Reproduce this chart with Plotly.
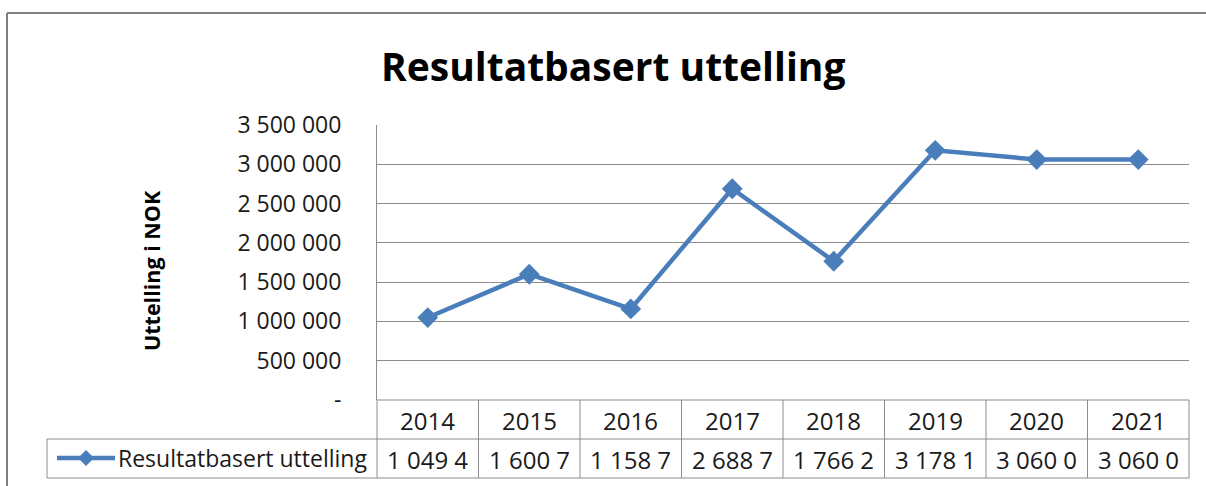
import plotly.graph_objects as go

years = ["2014", "2015", "2016", "2017", "2018", "2019", "2020", "2021"]
values = [1049400, 1600700, 1158700, 2688700, 1766200, 3178100, 3060000, 3060000]
series_name = "Resultatbasert uttelling"
title_text = "Resultatbasert uttelling"
y_title = "Uttelling i NOK"
y_tickvals = [0, 500000, 1000000, 1500000, 2000000, 2500000, 3000000, 3500000]


def fmt(v):
    if v == 0:
        return "-"
    return f"{v:,}".replace(",", " ")


y_ticktext = [fmt(v) for v in y_tickvals]
# Excel data table cells are too narrow, values appear clipped
table_text = [fmt(v)[:7] for v in values]

W, H = 1206, 486
L, R, T, B = 377, 17, 125, 86
pw, ph = W - L - R, H - T - B

def px_x(px):
    return (px - L) / pw

def px_y(py):
    return (H - B - py) / ph

FONT = "Open Sans"
LINE_C = "#4A7EBB"
GRID_C = "#8c8c8c"
TXT_C = "#1a1a1a"

n = len(years)
fig = go.Figure()
fig.add_trace(go.Scatter(
    x=list(range(n)), y=values, mode="lines+markers", name=series_name,
    line=dict(color=LINE_C, width=4.5),
    marker=dict(symbol="diamond", size=16, color=LINE_C),
    showlegend=False,
))

shapes = []
row1 = px_y(439)
row2 = px_y(478)
shapes.append(dict(type="line", xref="paper", yref="paper", x0=0, x1=1, y0=0, y1=0,
                   line=dict(color=GRID_C, width=1)))
shapes.append(dict(type="line", xref="paper", yref="paper", x0=px_x(47), x1=1, y0=row1, y1=row1,
                   line=dict(color=GRID_C, width=1)))
shapes.append(dict(type="line", xref="paper", yref="paper", x0=px_x(47), x1=1, y0=row2, y1=row2,
                   line=dict(color=GRID_C, width=1)))
for i in range(n + 1):
    xp = i / n
    shapes.append(dict(type="line", xref="paper", yref="paper", x0=xp, x1=xp, y0=row2, y1=0,
                       line=dict(color=GRID_C, width=1)))
shapes.append(dict(type="line", xref="paper", yref="paper", x0=px_x(47), x1=px_x(47), y0=row2, y1=row1,
                   line=dict(color=GRID_C, width=1)))
# outer chart border
shapes.append(dict(type="line", xref="paper", yref="paper", x0=px_x(7), x1=px_x(1260), y0=px_y(13), y1=px_y(13),
                   line=dict(color="#7f7f7f", width=2)))
shapes.append(dict(type="line", xref="paper", yref="paper", x0=px_x(7), x1=px_x(7), y0=px_y(13), y1=px_y(560),
                   line=dict(color="#7f7f7f", width=2)))

# legend key inside the data-table row
ky = 458
shapes.append(dict(type="line", xref="paper", yref="paper", x0=px_x(57), x1=px_x(115), y0=px_y(ky), y1=px_y(ky),
                   line=dict(color=LINE_C, width=4.5)))
cx, d = 86, 8
diamond = (f"M {px_x(cx - d)},{px_y(ky)} L {px_x(cx)},{px_y(ky - d)} "
           f"L {px_x(cx + d)},{px_y(ky)} L {px_x(cx)},{px_y(ky + d)} Z")
shapes.append(dict(type="path", xref="paper", yref="paper", path=diamond,
                   fillcolor=LINE_C, line=dict(color=LINE_C, width=0)))

annotations = []
annotations.append(dict(x=px_x(116), y=px_y(ky), xref="paper", yref="paper", text=series_name,
                        showarrow=False, font=dict(family=FONT, size=23, color=TXT_C),
                        xanchor="left", yanchor="middle"))
for i, (yr, t) in enumerate(zip(years, table_text)):
    xc = (i + 0.5) / n
    annotations.append(dict(x=xc, y=px_y(420), xref="paper", yref="paper", text=yr, showarrow=False,
                            font=dict(family=FONT, size=24, color=TXT_C), xanchor="center", yanchor="middle"))
    annotations.append(dict(x=xc, y=px_y(459), xref="paper", yref="paper", text=t, showarrow=False,
                            font=dict(family=FONT, size=24, color=TXT_C), xanchor="center", yanchor="middle"))
annotations.append(dict(x=px_x(151), y=px_y(271), xref="paper", yref="paper", text=f"<b>{y_title}</b>",
                        showarrow=False, textangle=-90, font=dict(family=FONT, size=21.5, color="#000000"),
                        xanchor="center", yanchor="middle"))
annotations.append(dict(x=px_x(613), y=px_y(66), xref="paper", yref="paper", text=f"<b>{title_text}</b>",
                        showarrow=False, font=dict(family=FONT, size=39, color="#000000"),
                        xanchor="center", yanchor="middle"))

fig.update_layout(
    width=W, height=H,
    margin=dict(l=L, r=R, t=T, b=B, pad=0, autoexpand=False),
    paper_bgcolor="white", plot_bgcolor="white",
    font=dict(family=FONT, color=TXT_C),
    shapes=shapes, annotations=annotations,
    showlegend=False,
    xaxis=dict(range=[-0.5, n - 0.5], showgrid=False, showticklabels=False, zeroline=False,
               showline=False, ticks="", fixedrange=True),
    yaxis=dict(range=[0, 3500000], tickvals=y_tickvals, ticktext=y_ticktext, showgrid=True,
               gridcolor=GRID_C, gridwidth=1, zeroline=False, showline=True, linecolor=GRID_C,
               linewidth=1, ticks="", ticklabelstandoff=30,
               tickfont=dict(family=FONT, size=23, color=TXT_C), fixedrange=True),
)

fig.write_html("out.html", config={"displayModeBar": False},
               post_script="document.body.style.margin='0';document.body.style.overflow='hidden';")
